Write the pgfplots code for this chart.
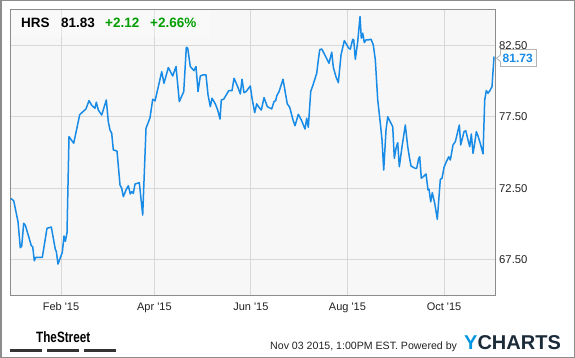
\documentclass[border=0pt]{standalone}
\usepackage{fontspec}
\setmainfont{Liberation Sans}
\usepackage{pgfplots}
\pgfplotsset{compat=1.18}
\definecolor{linec}{RGB}{24,139,230}
\definecolor{grn}{RGB}{0,158,0}
\definecolor{bgc}{RGB}{247,247,247}
\definecolor{gridc}{RGB}{216,216,216}
\definecolor{framec}{RGB}{140,140,140}
\definecolor{txt}{RGB}{34,34,34}
\definecolor{ycblue}{RGB}{0,150,225}
\definecolor{ycdark}{RGB}{28,43,57}
\pgfplotstableread{
day price
-0.78 71.78
1.11 71.62
3.83 70.14
5.28 68.32
6.17 68.43
7.43 70.03
8.44 69.90
10.59 69.09
12.23 68.46
13.12 68.39
14.13 67.40
15.01 67.64
19.18 67.64
22.15 69.68
24.87 69.77
27.40 68.20
28.03 68.06
29.10 67.17
31.82 67.99
32.90 69.14
33.72 68.76
34.79 69.37
36.05 76.11
39.02 75.65
41.11 76.74
42.82 77.66
46.80 78.06
48.69 78.64
50.40 78.31
52.48 78.10
53.30 78.53
54.57 77.98
56.72 77.63
59.62 78.69
60.89 77.16
61.96 76.58
63.03 76.35
64.05 75.18
66.38 75.10
68.28 72.72
69.35 72.49
70.37 71.90
72.07 72.37
73.53 72.67
74.79 72.09
75.67 72.25
76.68 72.13
77.76 72.79
80.47 72.88
82.62 70.61
84.71 76.70
87.24 77.44
88.94 78.74
90.40 78.62
92.48 79.62
94.63 80.67
96.08 79.86
98.80 80.96
101.58 80.37
103.67 81.03
105.76 78.57
108.54 79.27
110.18 82.39
111.06 82.32
112.70 81.03
115.04 80.74
116.30 81.03
117.57 79.27
119.02 80.37
120.54 80.44
122.62 80.44
123.89 79.04
125.34 78.22
126.41 78.81
128.50 78.41
130.01 77.98
131.47 77.35
132.29 78.69
133.81 78.74
136.97 79.34
139.05 79.34
140.32 80.21
142.65 79.62
144.30 79.11
145.37 80.14
146.63 79.20
147.90 79.27
150.61 79.67
151.69 78.81
153.39 77.80
154.65 78.41
156.11 78.17
157.56 77.98
159.27 78.85
161.35 78.22
164.13 78.06
165.59 78.57
166.66 78.64
167.30 78.97
168.75 79.27
171.28 80.14
172.98 79.04
173.99 78.41
175.51 78.17
177.60 77.28
178.86 76.88
180.95 77.68
182.84 77.28
185.18 76.65
186.25 77.40
187.26 76.77
188.78 79.27
190.42 79.81
192.57 80.56
193.58 81.50
194.46 82.20
195.73 82.27
198.25 81.73
200.34 81.26
202.05 82.04
203.06 80.98
204.77 80.30
206.23 79.90
207.93 81.85
210.01 82.85
212.79 82.32
213.80 82.25
215.32 82.95
215.95 82.90
216.96 81.54
218.48 82.78
219.93 84.54
220.75 83.02
221.64 83.37
222.65 82.71
223.72 82.90
225.17 82.90
226.88 82.95
228.33 82.55
229.60 81.50
231.11 78.69
232.76 77.05
233.83 75.88
234.90 73.77
236.36 76.58
237.43 77.51
238.44 77.28
240.59 76.81
241.60 74.59
242.68 75.29
243.75 75.69
244.76 74.00
246.47 75.41
248.55 76.93
250.07 75.41
251.08 74.70
252.15 74.05
254.68 73.89
255.75 73.89
257.02 74.59
257.65 74.70
258.66 73.19
260.37 73.35
261.63 73.49
262.90 72.37
263.53 72.42
264.60 71.54
265.61 72.18
267.13 71.43
268.77 70.31
270.67 73.12
271.74 73.19
273.01 73.96
274.46 74.35
275.98 74.70
276.99 74.47
278.70 75.53
280.15 75.76
282.68 76.93
283.56 75.53
285.65 76.46
286.72 76.53
288.17 75.88
289.25 75.41
290.26 76.30
291.33 74.94
292.41 75.65
293.42 76.46
294.49 76.16
296.20 75.53
297.65 74.90
298.72 78.69
299.73 79.34
300.81 79.16
301.88 79.32
303.33 79.62
304.59 81.73
}\hrs
\begin{document}
\begin{tikzpicture}[x=1pt,y=1pt]
\path[use as bounding box] (0,0) rectangle (575,-358);
\fill[white] (0,0) rectangle (575,-358);
\begin{axis}[
  at={(10pt,-295pt)}, anchor=south west,
  scale only axis, width=485pt, height=285pt,
  xmin=-1.23, xmax=305.22, ymin=65, ymax=85,
  axis background/.style={fill=bgc},
  axis line style={draw=framec, line width=1pt},
  grid=major,
  major grid style={draw=gridc, line width=0.9pt},
  major tick length=0pt,
  tick style={draw=none},
  xtick={31,90,151,212,273},
  xticklabels={Feb \textquotesingle 15, Apr \textquotesingle 15, Jun \textquotesingle 15, Aug \textquotesingle 15, Oct \textquotesingle 15},
  xticklabel style={anchor=base, inner sep=0pt, yshift=-15pt, font=\fontsize{11}{13}\selectfont, text=txt},
  ytick={67.5,72.5,77.5,82.5},
  yticklabel pos=right,
  yticklabel style={anchor=base west, inner sep=0pt, xshift=4pt, yshift=-4pt, font=\fontsize{11.3}{13}\selectfont, text=txt,
    /pgf/number format/.cd, fixed, fixed zerofill, precision=2, assume math mode=true},
]
\addplot[linec, line width=1.5pt, line join=round] table[x=day, y=price] {\hrs};
\end{axis}
% header box
\fill[white, opacity=0.3] (11,-11) rectangle (210,-37);
\node[anchor=base west, inner sep=0pt] at (21,-27.8) {\fontsize{13.5}{16}\selectfont\bfseries HRS};
\node[anchor=base west, inner sep=0pt] at (61,-27.8) {\fontsize{13.5}{16}\selectfont\bfseries 81.83};
\node[anchor=base west, inner sep=0pt, text=grn] at (105,-27.8) {\fontsize{13.5}{16}\selectfont\bfseries +2.12};
\node[anchor=base west, inner sep=0pt, text=grn] at (150,-27.8) {\fontsize{13.5}{16}\selectfont\bfseries +2.66\%};
% callout
\draw[draw=gray!60, fill=white, line width=0.8pt] (500.5,-49.5) -- (536.5,-49.5) -- (536.5,-66.5) -- (500.5,-66.5) -- (500.5,-61.5) -- (496.5,-58.3) -- (500.5,-55) -- cycle;
\node[anchor=base west, inner sep=0pt, text=linec] at (502.5,-62.4) {\fontsize{12}{14}\selectfont\bfseries 81.73};
% footer
\node[anchor=base west, inner sep=0pt] at (36,-342) {\scalebox{0.78}[1]{\fontsize{15}{18}\selectfont\bfseries TheStreet}};
\fill[black!80] (10,-349) rectangle (42,-352);
\fill[black!80] (47,-349) rectangle (79,-352);
\fill[black!80] (84,-349) rectangle (116,-352);
\node[anchor=base west, inner sep=0pt, text=txt] at (270,-349) {\fontsize{10.6}{13}\selectfont Nov 03 2015, 1:00PM EST. Powered by};
\node[anchor=base west, inner sep=0pt] at (464,-349.5) {\fontsize{20}{24}\selectfont\bfseries\textcolor{ycblue}{Y}\textcolor{ycdark}{CHARTS}};
\draw[framec, line width=1.5pt] (0.75,-0.75) rectangle (574.25,-357.25);
\end{tikzpicture}
\end{document}
